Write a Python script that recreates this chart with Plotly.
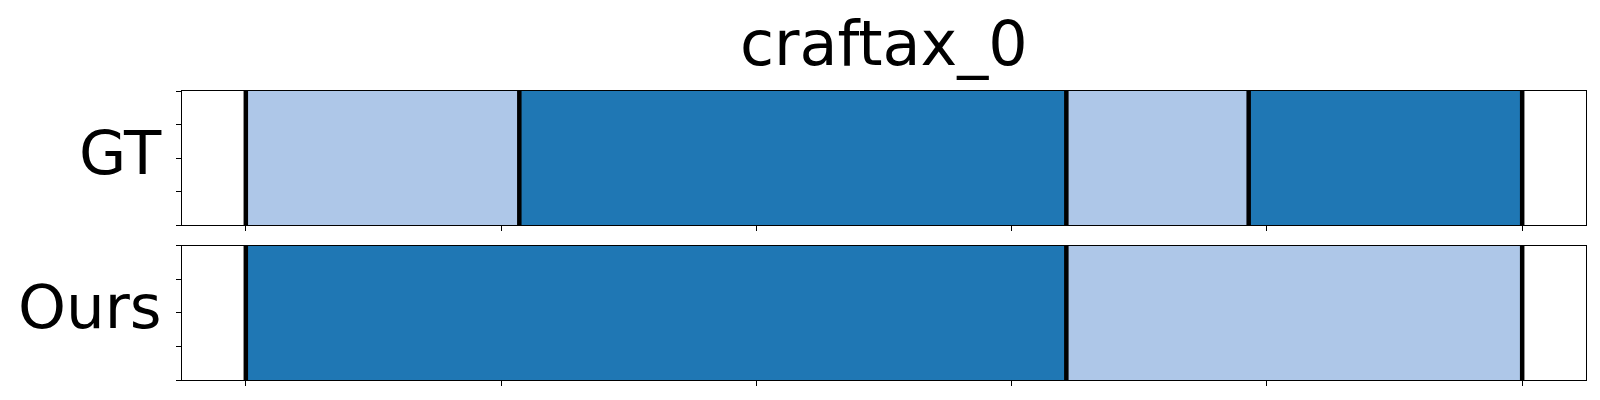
import plotly.graph_objects as go
from plotly.subplots import make_subplots

title = "craftax_0"
row_labels = ["GT", "Ours"]
total_len = 70
gt_starts = [0, 15, 45, 55]
gt_ends = [15, 45, 55, 70]
gt_classes = [0, 1, 0, 1]
ours_starts = [0, 45]
ours_ends = [45, 70]
ours_classes = [1, 0]
class_colors = ["#aec7e8", "#1f77b4"]
x_ticks = [0, 14, 28, 42, 56, 70]
y_ticks = [0, 0.25, 0.5, 0.75, 1.0]

fig = make_subplots(rows=2, cols=1, shared_xaxes=False, vertical_spacing=0.0)

rows = [(gt_starts, gt_ends, gt_classes), (ours_starts, ours_ends, ours_classes)]
for r, (starts, ends, classes) in enumerate(rows, start=1):
    for s, e, c in zip(starts, ends, classes):
        fig.add_trace(go.Bar(orientation="h", y=[0.5], x=[e - s], base=[s], width=1,
                             marker=dict(color=class_colors[c], line=dict(width=0)),
                             showlegend=False, hoverinfo="skip"), row=r, col=1)
    bounds = sorted(set(starts) | set(ends))
    xs, ys = [], []
    for b in bounds:
        xs += [b, b, None]
        ys += [0, 1, None]
    fig.add_trace(go.Scatter(x=xs, y=ys, mode="lines", line=dict(color="black", width=4.5),
                             showlegend=False, hoverinfo="skip"), row=r, col=1)

pad = total_len * 0.05
axis_common = dict(showline=True, mirror=True, linecolor="black", linewidth=1.3,
                   ticks="outside", ticklen=5, tickwidth=1, tickcolor="black",
                   showticklabels=False, showgrid=False, zeroline=False)
for name in ["xaxis", "xaxis2"]:
    fig.layout[name].update(range=[-pad, total_len + pad], tickvals=x_ticks, **axis_common)
for name in ["yaxis", "yaxis2"]:
    fig.layout[name].update(range=[0, 1], tickvals=y_ticks, **axis_common)

fig.layout.yaxis.domain = [0.5352, 1.0]
fig.layout.yaxis2.domain = [0.0, 0.4648]

annotations = [dict(text=title, xref="paper", yref="paper", x=0.5, y=1, yshift=48,
                    xanchor="center", yanchor="middle", showarrow=False,
                    font=dict(size=62, color="black", family="DejaVu Sans"))]
for lbl, yref in zip(row_labels, ["y domain", "y2 domain"]):
    annotations.append(dict(text=lbl, xref="paper", yref=yref, x=0, y=0.5, xshift=-18,
                            yshift=6, xanchor="right", yanchor="middle", showarrow=False,
                            font=dict(size=61, color="black", family="DejaVu Sans")))
fig.update_layout(annotations=annotations, width=1600, height=400,
                  margin=dict(l=182, r=14, t=91, b=20), barmode="overlay",
                  plot_bgcolor="white", paper_bgcolor="white",
                  font=dict(family="DejaVu Sans"))

fig.write_html("out.html", config={"displayModeBar": False},
               post_script="document.body.style.margin='0';document.body.style.overflow='hidden';")
